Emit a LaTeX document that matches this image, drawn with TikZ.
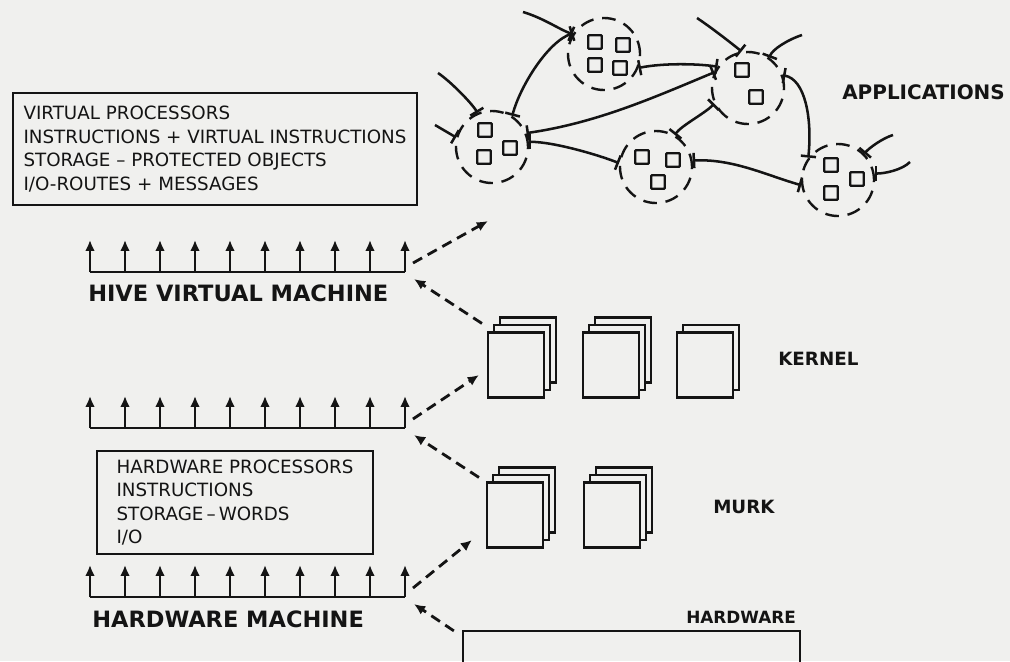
\documentclass[tikz,border=0pt]{standalone}
\usepackage{fontspec}
\setmainfont{DejaVu Sans}
\usepackage{tikz}
\usetikzlibrary{calc, positioning, arrows.meta}
\definecolor{inkBlack}{HTML}{141414}
\definecolor{paperGrey}{HTML}{F0F0EE}
\tikzset{
  infobox/.style  = {draw=inkBlack, line width=1.5pt, align=left, inner sep=0pt,
                     font=\fontsize{13}{16.8}\selectfont, text=inkBlack},
  tag/.style      = {anchor=west, inner sep=0pt, text=inkBlack,
                     font=\bfseries\fontsize{16}{19}\selectfont},
  smalltag/.style = {font=\bfseries\fontsize{13}{16}\selectfont},
  bus/.style      = {draw=inkBlack, line width=1.5pt},
  riser/.style    = {-{Latex[length=2.7mm, width=2.4mm]}, draw=inkBlack, line width=1.5pt},
  page/.style     = {draw=inkBlack, fill=paperGrey, line width=1.5pt, inner sep=0pt,
                     minimum width=14mm, minimum height=16.25mm},
  hwbar/.style    = {draw=inkBlack, line width=1.6pt, inner sep=0pt,
                     minimum width=84.25mm, minimum height=12.5mm},
  fl/.style       = {-{Latex[length=2.8mm, width=2.5mm]}, draw=inkBlack, line width=2pt,
                     dash pattern=on 2.6mm off 1.6mm},
  procring/.style = {circle, draw=inkBlack, line width=1.7pt, inner sep=0pt,
                     dash pattern=on 3.4mm off 2.2mm, minimum size=18mm},
  proc/.style     = {draw=inkBlack, line width=1.6pt, rounded corners=0.6pt, inner sep=0pt,
                     minimum size=3.4mm},
  link/.style     = {{Bar[width=3.8mm]}-{Bar[width=3.8mm]}, draw=inkBlack, line width=1.8pt},
  stub/.style     = {-{Bar[width=3.8mm]}, draw=inkBlack, line width=1.8pt}
}
% a stack of pages: name, centre of the front page, back layers
\newcommand{\pagestack}[3]{%
  \foreach \l in {#3} \node[page] (#1-\l) at ($(#2)+(6*\l,-7.5*\l)$) {};
  \node[page] (#1) at (#2) {};
}

\begin{document}
\begin{tikzpicture}[x=0.25mm, y=-0.25mm, node distance=10mm]
  \path[use as bounding box, fill=paperGrey] (0,0) rectangle (1010,661);
  \clip (0,0) rectangle (1010,661);

  % the two machine descriptions
  \node[infobox, minimum width=101mm, minimum height=28mm] (vbox) at (215,149)
    {VIRTUAL PROCESSORS\\ INSTRUCTIONS + VIRTUAL INSTRUCTIONS\\
     STORAGE -- PROTECTED OBJECTS\\ I/O-ROUTES + MESSAGES};
  \node[infobox, minimum width=69mm, minimum height=25.75mm] (hbox) at (235,502.5)
    {HARDWARE PROCESSORS\\ INSTRUCTIONS\\ STORAGE\,--\,WORDS\\ I/O};

  % interfaces
  \foreach \n/\y in {vm/272, mid/428, hm/597} {
    \draw[bus] (90,\y) -- (405,\y);
    \foreach \i in {0,...,9} \draw[riser] (90+35*\i,\y) -- ++(0,-32);
    \coordinate (\n-out) at (413,\y-9);
    \coordinate (\n-in) at (414,\y+7);
  }
  \node[tag] (vmlabel) at (88,293) {HIVE VIRTUAL MACHINE};
  \node[tag] (hmlabel) at (92,619) {HARDWARE MACHINE};

  % kernel and murk
  \pagestack{k1}{516,365}{2,1}
  \pagestack{k2}{611,365}{2,1}
  \pagestack{k3}{705,365}{1}
  \pagestack{m1}{515,515}{2,1}
  \pagestack{m2}{612,515}{2,1}
  \node[tag, smalltag] (klabel) at (778,359) {KERNEL};
  \node[tag, smalltag] (mlabel) at (713,507) {MURK};

  \node[hwbar] (hw) at (631.5,656) {};
  \node[tag, font=\bfseries\fontsize{12}{15}\selectfont] (hwlabel) at (686,617) {HARDWARE};

  % applications
  \foreach \n/\px/\py in {ap1/492/147, ap2/604/54, ap3/748/88, ap4/656/167, ap5/838/180}
    \node[procring] (\n) at (\px,\py) {};
  \foreach \c/\dx/\dy [count=\i] in {ap1/-7/-17, ap1/-8/10, ap1/18/1,
      ap2/-9/-12, ap2/19/-9, ap2/-9/11, ap2/16/14,
      ap3/-6/-18, ap3/8/9,
      ap4/-14/-10, ap4/17/-7, ap4/2/15,
      ap5/-7/-15, ap5/19/-1, ap5/-7/13}
    \node[proc] (sq\i) at ($(\c)+(\dx,\dy)$) {};
  \node[tag, font=\bfseries\fontsize{14.2}{16}\selectfont] (applabel) at (842,92) {APPLICATIONS};

  \coordinate (s1) at (438,73);
  \coordinate (s2) at (435,125);
  \coordinate (s3) at (523,12);
  \coordinate (s4) at (697,18);
  \coordinate (s5) at (802,35);
  \coordinate (s6) at (893,135);
  \coordinate (s7) at (910,162);
  \coordinate (appin) at (488,221);

  \draw[stub] (s1) .. controls +(12,8) and +(-6,-10) .. (ap1.113);
  \draw[stub] (s2) -- (ap1.165);
  \draw[stub] (s3) .. controls +(20,6) and +(-15,-6) .. (ap2.148);
  \draw[stub] (s4) .. controls +(15,10) and +(-10,-8) .. (ap3.100);
  \draw[stub] (s5) .. controls +(-15,5) and +(3,-8) .. (ap3.55);
  \draw[stub] (s6) .. controls +(-10,3) and +(5,-6) .. (ap5.45);
  \draw[stub] (s7) .. controls +(-8,8) and +(10,0) .. (ap5.10);

  \draw[link] (ap1.57) .. controls +(8,-30) and +(-25,8) .. (ap2.146);
  \draw[link] (ap2.-22) .. controls +(25,-5) and +(-20,-3) .. (ap3.145);
  \draw[link] (ap1.22) .. controls +(70,-10) and +(-60,25) .. (ap3.155);
  \draw[link] (ap1.8) .. controls +(25,0) and +(-20,-8) .. (ap4.174);
  \draw[link] (ap3.205) .. controls +(-10,10) and +(8,-10) .. (ap4.60);
  \draw[link] (ap4.10) .. controls +(40,-2) and +(-35,-10) .. (ap5.188);
  \draw[link] (ap3.20) .. controls +(22,4) and +(4,-40) .. (ap5.143);

  % dependencies between the levels
  \draw[fl] ($(k1.north west)+(-5,-8)$) -- (vm-in);
  \draw[fl] (vm-out) -- (appin);
  \draw[fl] (mid-out) -- ($(k1.west)+(-8,10)$);
  \draw[fl] ($(m1.north west)+(-7,-4)$) -- (mid-in);
  \draw[fl] (hm-out) -- ($(m1.west)+(-14,25)$);
  \draw[fl] ($(hw.north west)+(-8,1)$) -- (hm-in);
\end{tikzpicture}
\end{document}
